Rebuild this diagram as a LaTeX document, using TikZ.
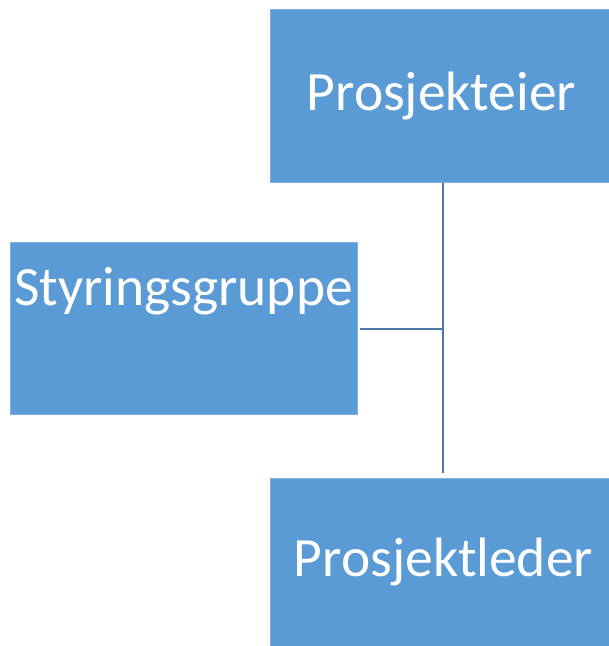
\documentclass[tikz,border=0pt]{standalone}
\usepackage{fontspec}
\setmainfont{Carlito}
\definecolor{boxblue}{HTML}{5B9BD5}
\definecolor{boxedge}{HTML}{7FB0E0}
\definecolor{lineblue}{HTML}{4A76AA}
\begin{document}
\begin{tikzpicture}[x=1pt,y=-1pt,
  orgbox/.style={fill=boxblue,draw=boxedge,line width=0.8pt,inner sep=0pt},
  lbl/.style={text=white,font=\fontsize{55.5}{60}\selectfont,inner sep=0pt},
  conn/.style={draw=lineblue,line width=2.5pt}]
\useasboundingbox (0,0) rectangle (609,646);
\node[orgbox,minimum width=339pt,minimum height=173pt] (pe) at (439.5,95.5) {};
\node[lbl] (pet) at ([xshift=2pt]pe.center) {Prosjekteier};
\node[orgbox,minimum width=347pt,minimum height=172pt] (sg) at (183.5,328) {};
\node[lbl,anchor=base] (sgt) at (183.5,305) {Styringsgruppe};
\node[orgbox,minimum width=339pt,minimum height=168pt] (pl) at (439.5,562) {};
\node[lbl] (plt) at ([xshift=4pt]pl.center) {Prosjektleder};
\coordinate (vt) at ([xshift=3.5pt,yshift=-1pt]pe.south);
\coordinate (vb) at ([xshift=3.5pt,yshift=5pt]pl.north);
\draw[conn] (vt) -- (vb);
\draw[conn] ([xshift=3pt,yshift=-1pt]sg.east) -- ([yshift=-1pt]sg.east -| vt);
\end{tikzpicture}
\end{document}
